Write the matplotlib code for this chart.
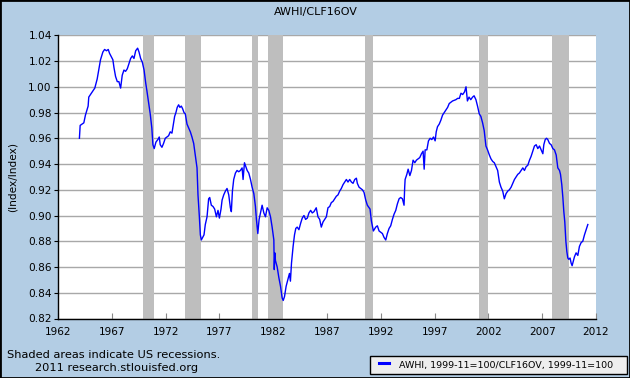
import matplotlib
matplotlib.use('Agg')
import matplotlib.pyplot as plt
from matplotlib.lines import Line2D
from matplotlib.patches import Rectangle

# Chart texts
title = 'AWHI/CLF16OV'
y_label = '(Index/Index)'
legend_label = 'AWHI, 1999-11=100/CLF16OV, 1999-11=100'
note_lines = ['Shaded areas indicate US recessions.', '2011 research.stlouisfed.org']

# Axes
x_ticks = [1962, 1967, 1972, 1977, 1982, 1987, 1992, 1997, 2002, 2007, 2012]
y_ticks = [0.82, 0.84, 0.86, 0.88, 0.90, 0.92, 0.94, 0.96, 0.98, 1.00, 1.02, 1.04]

# US recessions (start, end) in decimal years
recession_start = [1969.92, 1973.83, 1980.00, 1981.50, 1990.50, 2001.17, 2007.92]
recession_end = [1970.92, 1975.25, 1980.58, 1982.92, 1991.25, 2001.92, 2009.50]

# AWHI / CLF16OV ratio
years = [
    1963.99, 1964.06, 1964.40, 1964.55, 1964.80, 1964.86, 1965.02, 1965.42, 1965.64, 1965.80,
    1965.95, 1966.17, 1966.33, 1966.51, 1966.67, 1966.79, 1966.98, 1967.10, 1967.20, 1967.35,
    1967.51, 1967.66, 1967.82, 1967.97, 1968.13, 1968.28, 1968.44, 1968.60, 1968.75, 1968.91,
    1969.06, 1969.22, 1969.40, 1969.53, 1969.68, 1969.84, 1970.00, 1970.15, 1970.26, 1970.41,
    1970.57, 1970.72, 1970.82, 1970.94, 1971.10, 1971.28, 1971.41, 1971.50, 1971.66, 1971.81,
    1971.97, 1972.12, 1972.28, 1972.43, 1972.59, 1972.71, 1972.84, 1972.96, 1973.08, 1973.21,
    1973.33, 1973.46, 1973.58, 1973.71, 1973.83, 1973.99, 1974.14, 1974.30, 1974.45, 1974.61,
    1974.76, 1974.92, 1975.01, 1975.13, 1975.23, 1975.32, 1975.44, 1975.57, 1975.69, 1975.85,
    1976.00, 1976.10, 1976.25, 1976.41, 1976.56, 1976.72, 1976.87, 1977.00, 1977.15, 1977.25,
    1977.40, 1977.56, 1977.71, 1977.87, 1978.02, 1978.11, 1978.21, 1978.33, 1978.49, 1978.64,
    1978.80, 1978.95, 1979.11, 1979.20, 1979.33, 1979.45, 1979.58, 1979.73, 1979.89, 1980.04,
    1980.20, 1980.35, 1980.44, 1980.57, 1980.69, 1980.82, 1980.97, 1981.13, 1981.28, 1981.44,
    1981.59, 1981.75, 1981.90, 1982.06, 1982.10, 1982.15, 1982.21, 1982.37, 1982.52, 1982.68,
    1982.83, 1982.93, 1983.05, 1983.20, 1983.36, 1983.51, 1983.60, 1983.70, 1983.85, 1983.98,
    1984.10, 1984.23, 1984.39, 1984.55, 1984.70, 1984.86, 1985.01, 1985.17, 1985.32, 1985.48,
    1985.63, 1985.79, 1986.00, 1986.16, 1986.32, 1986.47, 1986.63, 1986.78, 1986.94, 1987.09,
    1987.25, 1987.40, 1987.56, 1987.71, 1987.87, 1988.02, 1988.18, 1988.33, 1988.49, 1988.64,
    1988.80, 1988.95, 1989.11, 1989.27, 1989.42, 1989.58, 1989.73, 1989.82, 1989.98, 1990.13,
    1990.29, 1990.44, 1990.60, 1990.75, 1991.00, 1991.12, 1991.31, 1991.53, 1991.68, 1991.84,
    1991.99, 1992.15, 1992.30, 1992.46, 1992.61, 1992.77, 1992.92, 1993.08, 1993.23, 1993.39,
    1993.54, 1993.70, 1993.85, 1994.01, 1994.16, 1994.22, 1994.26, 1994.42, 1994.54, 1994.70,
    1994.85, 1995.00, 1995.16, 1995.31, 1995.47, 1995.62, 1995.78, 1995.93, 1996.03, 1996.12,
    1996.28, 1996.43, 1996.59, 1996.74, 1996.90, 1997.05, 1997.15, 1997.27, 1997.43, 1997.58,
    1997.74, 1997.90, 1998.05, 1998.21, 1998.36, 1998.67, 1998.98, 1999.14, 1999.30, 1999.45,
    1999.61, 1999.78, 1999.92, 2000.05, 2000.20, 2000.36, 2000.53, 2000.67, 2000.84, 2000.99,
    2001.15, 2001.30, 2001.46, 2001.61, 2001.77, 2001.92, 2002.09, 2002.24, 2002.40, 2002.55,
    2002.71, 2002.86, 2003.02, 2003.17, 2003.33, 2003.48, 2003.64, 2003.80, 2003.95, 2004.11,
    2004.26, 2004.42, 2004.57, 2004.73, 2004.88, 2005.04, 2005.20, 2005.35, 2005.51, 2005.66,
    2005.82, 2005.97, 2006.13, 2006.28, 2006.44, 2006.59, 2006.75, 2006.90, 2007.06, 2007.15,
    2007.28, 2007.40, 2007.52, 2007.68, 2007.83, 2007.99, 2008.14, 2008.30, 2008.45, 2008.61,
    2008.70, 2008.82, 2008.92, 2009.01, 2009.10, 2009.20, 2009.29, 2009.38, 2009.47, 2009.59,
    2009.69, 2009.78, 2009.87, 2010.00, 2010.15, 2010.31, 2010.46, 2010.62, 2010.77, 2010.93,
    2011.08, 2011.24,
]
ratio = [
    0.960, 0.970, 0.972, 0.978, 0.985, 0.992, 0.994, 0.999, 1.006, 1.014,
    1.021, 1.027, 1.029, 1.028, 1.029, 1.026, 1.023, 1.021, 1.015, 1.008,
    1.004, 1.004, 0.999, 1.009, 1.013, 1.012, 1.014, 1.018, 1.022, 1.024,
    1.022, 1.028, 1.030, 1.027, 1.022, 1.019, 1.013, 1.003, 0.997, 0.988,
    0.979, 0.968, 0.955, 0.952, 0.957, 0.959, 0.961, 0.955, 0.953, 0.956,
    0.960, 0.961, 0.962, 0.965, 0.964, 0.970, 0.977, 0.980, 0.984, 0.986,
    0.984, 0.985, 0.983, 0.980, 0.979, 0.971, 0.968, 0.965, 0.961, 0.956,
    0.947, 0.937, 0.916, 0.900, 0.885, 0.881, 0.883, 0.885, 0.893, 0.899,
    0.913, 0.914, 0.908, 0.907, 0.905, 0.899, 0.904, 0.898, 0.905, 0.912,
    0.916, 0.919, 0.921, 0.916, 0.906, 0.903, 0.919, 0.928, 0.933, 0.935,
    0.934, 0.935, 0.937, 0.928, 0.941, 0.938, 0.935, 0.933, 0.928, 0.922,
    0.917, 0.907, 0.897, 0.886, 0.897, 0.902, 0.908, 0.902, 0.899, 0.906,
    0.904, 0.899, 0.891, 0.881, 0.858, 0.871, 0.865, 0.860, 0.852, 0.845,
    0.836, 0.834, 0.837, 0.845, 0.850, 0.855, 0.849, 0.863, 0.876, 0.885,
    0.890, 0.891, 0.889, 0.894, 0.898, 0.900, 0.897, 0.898, 0.902, 0.904,
    0.902, 0.903, 0.906, 0.899, 0.897, 0.891, 0.895, 0.897, 0.899, 0.906,
    0.907, 0.910, 0.911, 0.913, 0.915, 0.916, 0.919, 0.921, 0.924, 0.926,
    0.928, 0.926, 0.928, 0.926, 0.925, 0.928, 0.929, 0.925, 0.922, 0.921,
    0.920, 0.918, 0.912, 0.908, 0.905, 0.896, 0.888, 0.891, 0.892, 0.888,
    0.887, 0.886, 0.883, 0.881, 0.886, 0.890, 0.892, 0.897, 0.901, 0.904,
    0.909, 0.913, 0.914, 0.913, 0.908, 0.922, 0.928, 0.932, 0.936, 0.931,
    0.935, 0.943, 0.941, 0.943, 0.944, 0.945, 0.948, 0.950, 0.936, 0.951,
    0.951, 0.958, 0.960, 0.959, 0.961, 0.958, 0.965, 0.969, 0.971, 0.974,
    0.978, 0.980, 0.982, 0.984, 0.987, 0.989, 0.990, 0.991, 0.991, 0.995,
    0.994, 0.996, 1.000, 0.989, 0.992, 0.990, 0.992, 0.993, 0.990, 0.985,
    0.979, 0.977, 0.972, 0.966, 0.954, 0.951, 0.947, 0.944, 0.942, 0.941,
    0.938, 0.935, 0.926, 0.922, 0.919, 0.913, 0.917, 0.919, 0.920, 0.922,
    0.925, 0.928, 0.930, 0.932, 0.933, 0.935, 0.937, 0.935, 0.938, 0.939,
    0.943, 0.946, 0.950, 0.954, 0.955, 0.952, 0.954, 0.951, 0.948, 0.955,
    0.959, 0.960, 0.959, 0.956, 0.955, 0.952, 0.951, 0.947, 0.937, 0.935,
    0.932, 0.924, 0.914, 0.903, 0.895, 0.880, 0.872, 0.867, 0.866, 0.867,
    0.863, 0.861, 0.864, 0.868, 0.871, 0.869, 0.876, 0.879, 0.880, 0.885,
    0.889, 0.893,
]

BG_COLOR = '#B3CDE4'
LINE_COLOR = '#0000FF'
SHADE_COLOR = '#BEBEBE'
GRID_COLOR = '#A8A8A8'

W, H = 630, 378


def fx(px):
    """Pixel x -> figure fraction"""
    return px / W


def fy(py):
    """Pixel y (from top) -> figure fraction"""
    return 1 - py / H


plt.rcParams['font.family'] = 'DejaVu Sans'

fig = plt.figure(figsize=(W / 100, H / 100), dpi=100, facecolor=BG_COLOR)
ax = fig.add_axes([fx(58), fy(318.5), fx(596 - 58), (318.5 - 35.3) / H])
ax.set_facecolor('white')

# Recession shading
for start, end in zip(recession_start, recession_end):
    ax.axvspan(start, end, color=SHADE_COLOR, lw=0, zorder=1)

ax.plot(years, ratio, color=LINE_COLOR, lw=1.0, zorder=3)

ax.set_xlim(1962, 2012)
ax.set_ylim(0.82, 1.04)
ax.set_xticks(x_ticks)
ax.set_xticklabels([str(x) for x in x_ticks])
ax.set_yticks(y_ticks)
ax.set_yticklabels([f'{y:.2f}' for y in y_ticks])

ax.set_axisbelow(True)
ax.grid(axis='y', color=GRID_COLOR, lw=1.0, zorder=0.5)
ax.grid(axis='x', visible=False)

for side in ['top', 'right']:
    ax.spines[side].set_visible(False)
ax.spines['left'].set_color('black')
ax.spines['bottom'].set_color('black')
ax.spines['left'].set_linewidth(1.0)
ax.spines['bottom'].set_linewidth(1.0)

ax.tick_params(axis='x', direction='in', length=4, width=0.8, color='#888888',
               pad=6, labelsize=7.6, labelcolor='black')
ax.tick_params(axis='y', direction='out', length=3, width=0.8, color='black',
               pad=1.5, labelsize=7.6, labelcolor='black')

# Texts
fig.text(fx(315.5), fy(12), title, ha='center', va='center', fontsize=8)
fig.text(fx(12.5), (fy(35.3) + fy(318.5)) / 2, y_label, rotation=90,
         ha='center', va='center', fontsize=7.6)
fig.text(fx(7), fy(355), note_lines[0], ha='left', va='center', fontsize=8.2)
fig.text(fx(35), fy(368), note_lines[1], ha='left', va='center', fontsize=8.2)

# Legend box, drawn by hand to match the FRED layout
fig.patches.append(Rectangle((fx(370), fy(374)), fx(627 - 370), (374 - 356) / H,
                             transform=fig.transFigure, facecolor='#EEEEEE',
                             edgecolor='black', lw=1.0))
fig.lines.append(Line2D([fx(379), fx(389)], [fy(362.5), fy(362.5)],
                        transform=fig.transFigure, color=LINE_COLOR, lw=2.2))
fig.text(fx(399), fy(365.5), legend_label, ha='left', va='center', fontsize=6.8)

# Outer border
fig.patches.append(Rectangle((0, 0), 1, 1, transform=fig.transFigure,
                             fill=False, edgecolor='black', lw=2))

fig.savefig('out.png', dpi=100, facecolor=BG_COLOR)
